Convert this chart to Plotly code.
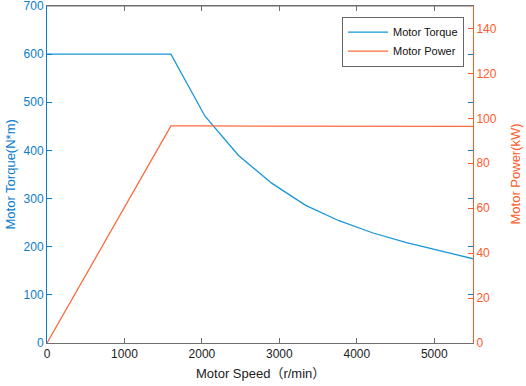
import plotly.graph_objects as go

speed = [0, 1600, 2040, 2470, 2900, 3340, 3770, 4200, 4630, 5060, 5500]
torque = [600, 600, 471, 390, 332, 286, 254, 229, 209, 192, 175]
power = [0, 96.6, 96.6, 96.6, 96.6, 96.5, 96.3, 96.3, 96.4, 96.4, 96.4]

x_ticks = [0, 1000, 2000, 3000, 4000, 5000]
torque_ticks = [0, 100, 200, 300, 400, 500, 600, 700]
power_ticks = [0, 20, 40, 60, 80, 100, 120, 140]

BLUE_LINE = "#1a96d8"
BLUE_TXT = "#0a7ccb"
ORANGE_LINE = "#ff6a3d"
ORANGE_TXT = "#ff5a2a"
GRAY = "#6f6f6f"
FONT = "Arial, Liberation Sans, Noto Sans CJK SC, sans-serif"

L, R, T, B = 47, 53, 6, 43
W, H = 526, 386
PW, PH = W - L - R, H - T - B

fig = go.Figure()
fig.add_trace(go.Scatter(x=speed, y=torque, mode="lines", name="Motor Torque",
                         line=dict(color=BLUE_LINE, width=1.3), yaxis="y"))
fig.add_trace(go.Scatter(x=speed, y=power, mode="lines", name="Motor Power",
                         line=dict(color=ORANGE_LINE, width=1.3), yaxis="y2"))

fig.update_layout(
    width=W, height=H,
    margin=dict(l=L, r=R, t=T, b=B, autoexpand=False),
    paper_bgcolor="white", plot_bgcolor="white",
    font=dict(family=FONT, size=12, color="#222222"),
    showlegend=True,
    legend=dict(x=(464 - L) / PW, y=(T + PH - 16.7) / PH, xanchor="right", yanchor="top",
                bgcolor="white", bordercolor="#666666", borderwidth=1,
                font=dict(size=11, color="#111111"), itemwidth=40,
                tracegroupgap=0),
    xaxis=dict(range=[0, 5500], tickvals=x_ticks, ticks="inside", ticklen=5,
               tickcolor=GRAY, showline=True, linecolor=GRAY, linewidth=1,
               mirror="ticks", ticklabeloverflow="allow",
               showgrid=False, zeroline=False, automargin=False,
               tickfont=dict(size=12, color="#222222")),
    yaxis=dict(range=[0, 700], tickvals=torque_ticks,
               ticks="inside", ticklen=5, ticklabeloverflow="allow",
               tickcolor=BLUE_TXT, showline=True, linecolor=BLUE_TXT, mirror="ticks",
               showgrid=False, zeroline=False, automargin=False,
               tickfont=dict(size=12, color=BLUE_TXT)),
    yaxis2=dict(range=[0, 150], tickvals=power_ticks, ticks="inside", ticklen=5,
                ticklabeloverflow="allow",
                tickcolor=ORANGE_TXT, showline=True, linecolor=ORANGE_TXT,
                overlaying="y", side="right", showgrid=False, zeroline=False,
                automargin=False,
                tickfont=dict(size=12, color=ORANGE_TXT)),
    shapes=[dict(type="line", xref="paper", yref="paper", x0=0, x1=1, y0=1, y1=1,
                 line=dict(color=GRAY, width=1.2), layer="above")],
    annotations=[
        dict(text="Motor Speed（r/min）", xref="paper", yref="paper",
             x=0.5, y=-(373 - (T + PH)) / PH, xanchor="center", yanchor="middle",
             showarrow=False, font=dict(size=13, color="#222222")),
        dict(text="Motor Torque(N*m)", xref="paper", yref="paper",
             x=-(L - 10) / PW, y=0.5, xanchor="center", yanchor="middle",
             textangle=-90, showarrow=False, font=dict(size=13, color=BLUE_TXT)),
        dict(text="Motor Power(kW)", xref="paper", yref="paper",
             x=1 + (515 - (L + PW)) / PW, y=0.5, xanchor="center", yanchor="middle",
             textangle=-90, showarrow=False, font=dict(size=13, color=ORANGE_TXT)),
    ],
)

fig.write_html("out.html", config={"displayModeBar": False},
               post_script="document.body.style.margin='0';document.body.style.overflow='hidden';")
